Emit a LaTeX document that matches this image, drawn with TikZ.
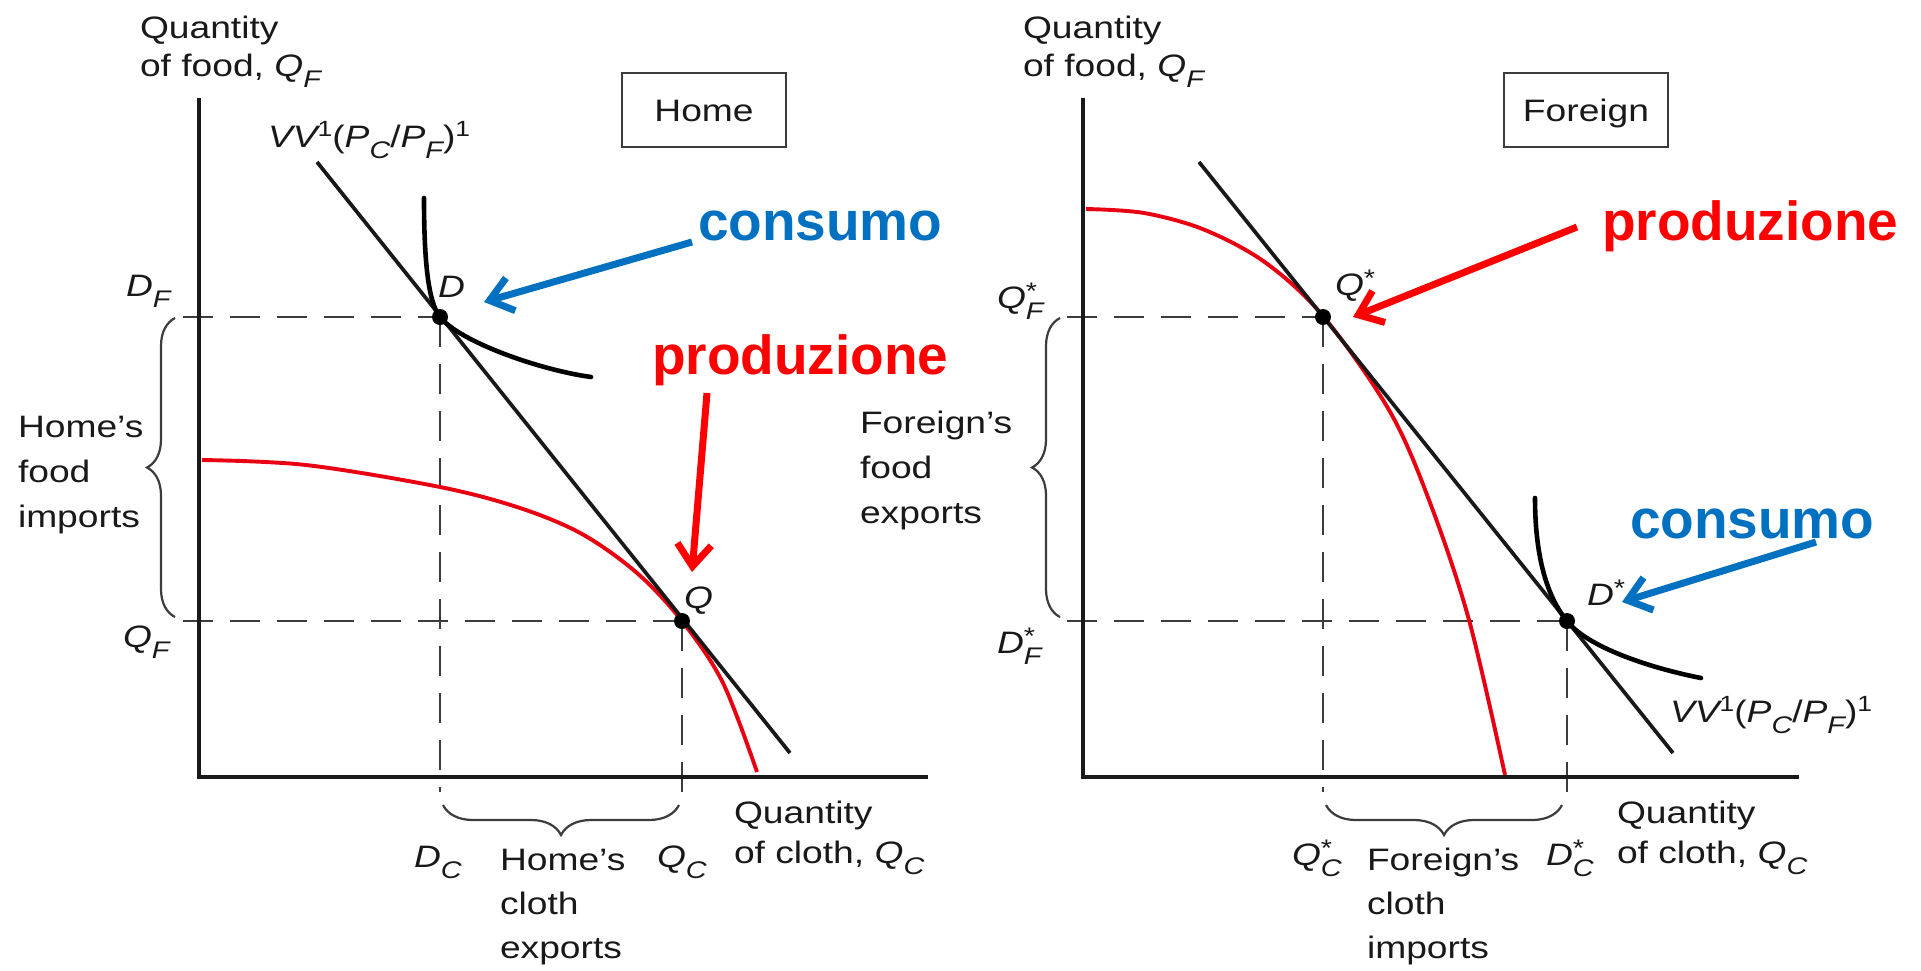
\documentclass[tikz,border=0pt]{standalone}
\usepackage{fontspec}
\setmainfont[FakeStretch=1.2]{Liberation Sans}
\newfontfamily\annfont{Liberation Sans}
\usetikzlibrary{arrows.meta,decorations.pathreplacing}
\definecolor{pred}{RGB}{232,0,18}
\definecolor{annred}{RGB}{255,0,0}
\definecolor{annblue}{RGB}{0,112,192}
\definecolor{ink}{RGB}{25,25,25}
\definecolor{guidegray}{RGB}{60,60,60}
\newcommand\lsub[1]{\raisebox{-11pt}{\fontsize{24}{24}\selectfont\itshape #1}}
\newcommand\lsupn[1]{\raisebox{11pt}{\fontsize{22}{22}\selectfont\upshape #1}}
\newcommand\lstar{\raisebox{9pt}{\fontsize{24}{24}\selectfont *}}
\newcommand\lstarsub[1]{\rlap{\lstar}\lsub{#1}}
\begin{document}
\begin{tikzpicture}[x=1pt,y=-1pt,
  lbl/.style={anchor=base west, inner sep=0pt, outer sep=0pt, text=ink, font=\fontsize{31}{37}\selectfont},
  ann/.style={anchor=base west, inner sep=0pt, outer sep=0pt, font=\annfont\bfseries\fontsize{55}{60}\selectfont},
  axisline/.style={line width=4.5pt, draw=ink},
  guide/.style={draw=guidegray, line width=2.8pt, dash pattern=on 30pt off 17pt},
  budget/.style={line width=3.7pt, draw=ink},
  ppf/.style={line width=3.9pt, draw=pred},
  indiff/.style={line width=4.6pt, draw=black, line cap=round},
  eqdot/.style={circle, fill=black, inner sep=0pt, minimum size=16pt},
  brc/.style={draw=ink!85, line width=2.2pt, decorate, decoration={brace, amplitude=28pt}},
  annarrow/.style={line width=7pt, -{Straight Barb[length=22pt,width=34pt]}},
  regionbox/.style={draw=ink!85, line width=2.4pt, minimum width=164pt, minimum height=74pt, inner sep=0pt, text height=22pt, text depth=0pt, text=ink, font=\fontsize{31}{37}\selectfont}
]
\fill[white] (0,0) rectangle (1921,970);
\useasboundingbox (0,0) rectangle (1921,970);

% ================= LEFT PANEL (Home) =================
\coordinate (LYt) at (199,98);
\coordinate (LO) at (199,777);
\coordinate (LXr) at (928,777);
\coordinate (D) at (440,317);
\coordinate (Q) at (682,621);
\coordinate (LBt) at (317,162);
\coordinate (LBb) at (790,753);
\coordinate (DFl) at (183,317);
\coordinate (QFl) at (183,621);
\coordinate (DCb) at (440,792);
\coordinate (QCb) at (682,792);

% guides
\draw[guide] (DFl) -- (D);
\draw[guide] (QFl) -- (Q);
\draw[guide] (D) -- (DCb);
\draw[guide] (Q) -- (QCb);

% production possibility frontier
\draw[ppf] plot[smooth, tension=0.55] coordinates {(202,460) (306,465) (440,487) (520,508) (582,534) (637,573) (682,621) (723,683) (757,772)};

% budget line
\draw[budget] (LBt) -- (LBb);

% indifference curve
\coordinate (LIt) at (424,198);
\coordinate (LIe) at (591,377);
\draw[indiff] (LIt) .. controls (424,260) and (428,302) .. (D) .. controls (460,342) and (540,370) .. (LIe);

% axes
\draw[axisline] (LYt) -- (LO) -- (LXr);

% dots
\node[eqdot] (Ddot) at (D) {};
\node[eqdot] (Qdot) at (Q) {};

% braces
\coordinate (LBr1) at (175,617);
\coordinate (LBr2) at (175,318);
\draw[brc] (LBr1) -- (LBr2);
\coordinate (LBr3) at (679,805);
\coordinate (LBr4) at (443,805);
\draw[brc, decoration={brace, amplitude=30pt}] (LBr3) -- (LBr4);

% labels
\node[lbl] (Lqf1) at (140,38) {Quantity};
\node[lbl] (Lqf2) at (140,76) {of food, {\itshape Q}\lsub{F}};
\node[regionbox] (HomeBox) at (704,110) {Home};
\node[lbl] (Lvv) at (268,147) {{\itshape VV}\lsupn{1}({\itshape P}\lsub{C}/{\itshape P}\lsub{F})\lsupn{1}};
\node[lbl] (LDF) at (126,296) {{\itshape D}\lsub{F}};
\node[lbl] (LDlab) at (438,297) {\itshape D};
\node[lbl] (LQlab) at (684,608) {\itshape Q};
\node[lbl] (LQF) at (123,647) {{\itshape Q}\lsub{F}};
\node[lbl] (LDC) at (414,867) {{\itshape D}\lsub{C}};
\node[lbl] (LQC) at (657,867) {{\itshape Q}\lsub{C}};
\node[lbl] (Lce1) at (500,870) {Home’s};
\node[lbl] (Lce2) at (500,914) {cloth};
\node[lbl] (Lce3) at (500,958) {exports};
\node[lbl] (Lqc1) at (734,823) {Quantity};
\node[lbl] (Lqc2) at (734,863) {of cloth, {\itshape Q}\lsub{C}};
\node[lbl] (Lfi1) at (18,437) {Home’s};
\node[lbl] (Lfi2) at (18,482) {food};
\node[lbl] (Lfi3) at (18,527) {imports};

% annotations
\node[ann, text=annblue] (Lcons) at (698,240) {consumo};
\node[ann, text=annred] (Lprod) at (652,374) {produzione};
\coordinate (LcA) at (692,242);
\coordinate (LcB) at (484,302);
\draw[annarrow, draw=annblue] (LcA) -- (LcB);
\coordinate (LpA) at (707,393);
\coordinate (LpB) at (692,572);
\draw[annarrow, draw=annred] (LpA) -- (LpB);

% ================= RIGHT PANEL (Foreign) =================
\coordinate (RYt) at (1083,98);
\coordinate (RO) at (1083,777);
\coordinate (RXr) at (1799,777);
\coordinate (Qs) at (1323,317);
\coordinate (Ds) at (1567,621);
\coordinate (RBt) at (1199,162);
\coordinate (RBb) at (1673,753);
\coordinate (QsFl) at (1067,317);
\coordinate (DsFl) at (1067,621);
\coordinate (QsCb) at (1323,792);
\coordinate (DsCb) at (1567,792);

\draw[guide] (QsFl) -- (Qs);
\draw[guide] (DsFl) -- (Ds);
\draw[guide] (Qs) -- (QsCb);
\draw[guide] (Ds) -- (DsCb);

\draw[ppf] plot[smooth, tension=0.55] coordinates {(1086,209) (1144,213) (1205,230) (1266,263) (1323,316) (1389,410) (1429,500) (1469,620) (1505,775)};

\draw[budget] (RBt) -- (RBb);

\coordinate (RIt) at (1535,498);
\coordinate (RIe) at (1701,678);
\draw[indiff] (RIt) .. controls (1535,570) and (1553,604) .. (Ds) .. controls (1587,647) and (1650,668) .. (RIe);

\draw[axisline] (RYt) -- (RO) -- (RXr);

\node[eqdot] (Qsdot) at (Qs) {};
\node[eqdot] (Dsdot) at (Ds) {};

\coordinate (RBr1) at (1060,617);
\coordinate (RBr2) at (1060,318);
\draw[brc] (RBr1) -- (RBr2);
\coordinate (RBr3) at (1562,805);
\coordinate (RBr4) at (1326,805);
\draw[brc, decoration={brace, amplitude=30pt}] (RBr3) -- (RBr4);

\node[lbl] (Rqf1) at (1023,38) {Quantity};
\node[lbl] (Rqf2) at (1023,76) {of food, {\itshape Q}\lsub{F}};
\node[regionbox] (ForeignBox) at (1586,110) {Foreign};
\node[lbl] (RQsF) at (997,308) {{\itshape Q}\lstarsub{F}};
\node[lbl] (RDsF) at (997,653) {{\itshape D}\lstarsub{F}};
\node[lbl] (RQslab) at (1335,295) {{\itshape Q}\lstar};
\node[lbl] (RDslab) at (1587,605) {{\itshape D}\lstar};
\node[lbl] (RQsC) at (1292,865) {{\itshape Q}\lstarsub{C}};
\node[lbl] (RDsC) at (1546,865) {{\itshape D}\lstarsub{C}};
\node[lbl] (Rci1) at (1367,870) {Foreign’s};
\node[lbl] (Rci2) at (1367,914) {cloth};
\node[lbl] (Rci3) at (1367,958) {imports};
\node[lbl] (Rqc1) at (1617,823) {Quantity};
\node[lbl] (Rqc2) at (1617,863) {of cloth, {\itshape Q}\lsub{C}};
\node[lbl] (Rfe1) at (860,433) {Foreign’s};
\node[lbl] (Rfe2) at (860,478) {food};
\node[lbl] (Rfe3) at (860,523) {exports};
\node[lbl] (Rvv) at (1670,722) {{\itshape VV}\lsupn{1}({\itshape P}\lsub{C}/{\itshape P}\lsub{F})\lsupn{1}};

\node[ann, text=annred] (Rprod) at (1602,240) {produzione};
\node[ann, text=annblue] (Rcons) at (1630,538) {consumo};
\coordinate (RpA) at (1577,227);
\coordinate (RpB) at (1353,317);
\draw[annarrow, draw=annred] (RpA) -- (RpB);
\coordinate (RcA) at (1816,542);
\coordinate (RcB) at (1622,602);
\draw[annarrow, draw=annblue] (RcA) -- (RcB);
\end{tikzpicture}
\end{document}
